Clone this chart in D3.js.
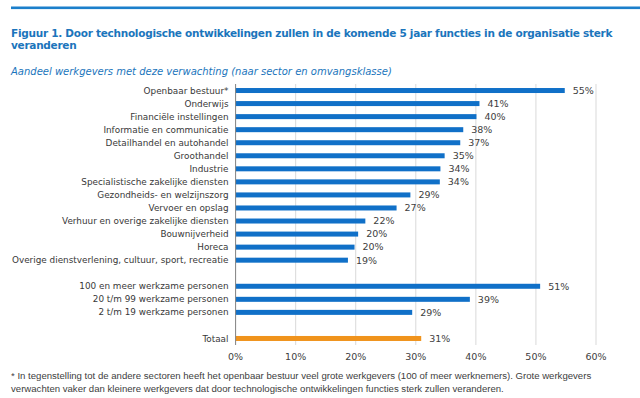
<!DOCTYPE html>
<html lang="nl">
<head>
  <meta charset="UTF-8" />
  <title>Figuur 1</title>
  <script src="https://d3js.org/d3.v7.min.js"></script>
  <style>
    html, body {
      margin: 0;
      padding: 0;
      background: #ffffff;
      overflow: hidden;
    }
    svg {
      display: block;
      font-family: 'DejaVu Sans', Verdana, sans-serif;
    }
    .title { font-size: 10.5px; font-weight: bold; fill: #1b75bc; letter-spacing: -0.27px; }
    .subtitle { font-size: 10px; font-style: italic; fill: #1b75bc; }
    .cat { font-size: 8.85px; fill: #383838; text-anchor: end; }
    .val { font-size: 9.5px; fill: #404040; }
    .tick-label { font-size: 9.5px; fill: #404040; text-anchor: middle; }
    .note { font-size: 9.6px; fill: #404040; font-family: 'Liberation Sans', Arial, sans-serif; }
  </style>
</head>
<body>
<svg width="640" height="398"></svg>
<script>
// sectoren
const sectors = [
  "Openbaar bestuur*",
  "Onderwijs",
  "Financiële instellingen",
  "Informatie en communicatie",
  "Detailhandel en autohandel",
  "Groothandel",
  "Industrie",
  "Specialistische zakelijke diensten",
  "Gezondheids- en welzijnszorg",
  "Vervoer en opslag",
  "Verhuur en overige zakelijke diensten",
  "Bouwnijverheid",
  "Horeca",
  "Overige dienstverlening, cultuur, sport, recreatie"
];
const sectorValues = [54.8, 40.6, 40.1, 37.9, 37.4, 34.8, 34.1, 34.0, 29.1, 26.8, 21.6, 20.4, 19.8, 18.7];

// omvangsklassen
const sizes = [
  "100 en meer werkzame personen",
  "20 t/m 99 werkzame personen",
  "2 t/m 19 werkzame personen"
];
const sizeValues = [50.7, 39.0, 29.4];

const totalLabel = "Totaal";
const totalValue = 30.9;

const xTicks = [0, 10, 20, 30, 40, 50, 60];

const titleLines = [
  "Figuur 1. Door technologische ontwikkelingen zullen in de komende 5 jaar functies in de organisatie sterk",
  "veranderen"
];
const subtitle = "Aandeel werkgevers met deze verwachting (naar sector en omvangsklasse)";
const noteLines = [
  "* In tegenstelling tot de andere sectoren heeft het openbaar bestuur veel grote werkgevers (100 of meer werknemers). Grote werkgevers",
  "verwachten vaker dan kleinere werkgevers dat door technologische ontwikkelingen functies sterk zullen veranderen."
];

const blue = "#1070c8";
const orange = "#f0931c";

// rows: sectors, gap, sizes, gap, total
const rows = [];
sectors.forEach((s, i) => rows.push({ key: "s" + i, label: s, value: sectorValues[i], color: blue }));
rows.push({ key: "gap1" });
sizes.forEach((s, i) => rows.push({ key: "k" + i, label: s, value: sizeValues[i], color: blue }));
rows.push({ key: "gap2" });
rows.push({ key: "tot", label: totalLabel, value: totalValue, color: orange });

const svg = d3.select("svg");

// top rule
svg.append("rect")
  .attr("x", 11).attr("y", 6.5)
  .attr("width", 629).attr("height", 2.6)
  .attr("fill", "#1b7fcb");

// title
svg.selectAll("text.title")
  .data(titleLines)
  .enter().append("text")
  .attr("class", "title")
  .attr("x", 11)
  .attr("y", (d, i) => 36.5 + i * 12)
  .text(d => d);

svg.append("text")
  .attr("class", "subtitle")
  .attr("x", 11).attr("y", 75)
  .text(subtitle);

const x = d3.scaleLinear().domain([0, 60]).range([235.6, 596]);
const y = d3.scaleBand().domain(rows.map(d => d.key)).range([84, 345]);
const barH = 5;

// gridlines
svg.append("g")
  .selectAll("line")
  .data(xTicks.slice(1))
  .enter().append("line")
  .attr("x1", d => x(d)).attr("x2", d => x(d))
  .attr("y1", 84).attr("y2", 345)
  .attr("stroke", "#d9d9d9")
  .attr("stroke-width", 1);

// tick labels
svg.append("g")
  .selectAll("text")
  .data(xTicks)
  .enter().append("text")
  .attr("class", "tick-label")
  .attr("x", d => x(d))
  .attr("y", 359.5)
  .text(d => d + "%");

const data = rows.filter(d => d.label);

// bars
svg.append("g")
  .selectAll("rect")
  .data(data)
  .enter().append("rect")
  .attr("x", x(0))
  .attr("y", d => y(d.key) + y.bandwidth() / 2 - barH / 2)
  .attr("width", d => x(d.value) - x(0))
  .attr("height", barH)
  .attr("fill", d => d.color);

// axis line
svg.append("line")
  .attr("x1", x(0)).attr("x2", x(0))
  .attr("y1", 84).attr("y2", 345)
  .attr("stroke", "#808080")
  .attr("stroke-width", 1);

// category labels
svg.append("g")
  .selectAll("text")
  .data(data)
  .enter().append("text")
  .attr("class", "cat")
  .attr("x", 228.5)
  .attr("y", d => y(d.key) + y.bandwidth() / 2)
  .attr("dy", "0.35em")
  .text(d => d.label);

// value labels
svg.append("g")
  .selectAll("text")
  .data(data)
  .enter().append("text")
  .attr("class", "val")
  .attr("x", d => x(d.value) + 8)
  .attr("y", d => y(d.key) + y.bandwidth() / 2)
  .attr("dy", "0.35em")
  .text(d => Math.round(d.value) + "%");

// footnote
svg.selectAll("text.note")
  .data(noteLines)
  .enter().append("text")
  .attr("class", "note")
  .attr("x", 11)
  .attr("y", (d, i) => 379 + i * 12.5)
  .text(d => d);
</script>
</body>
</html>
